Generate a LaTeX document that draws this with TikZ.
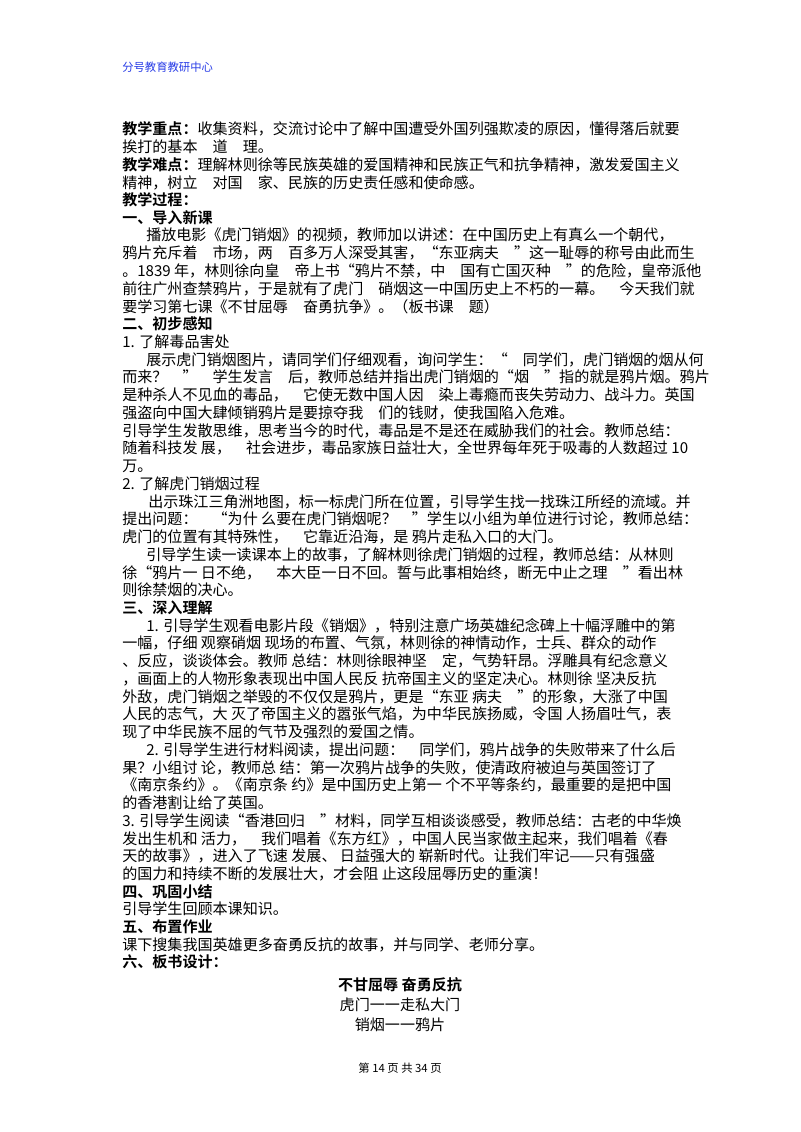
\documentclass[tikz,border=0pt]{standalone}
\usepackage{fontspec}
\setmainfont{Noto Sans CJK SC}
\newfontfamily\cjkb{Noto Sans CJK SC Bold}
\definecolor{hdr}{RGB}{40,60,230}
\begin{document}
\begin{tikzpicture}[x=0.75pt,y=-0.75pt]
\tikzset{ln/.style={anchor=west,inner sep=0pt,font=\fontsize{11.3pt}{13pt}\selectfont},
 hb/.style={ln,font=\fontsize{11.3pt}{13pt}\selectfont\cjkb}}
\useasboundingbox (0,0) rectangle (800,1132);
\node[ln,text=hdr,font=\fontsize{8.5pt}{10pt}\selectfont] (h) at (122,67) {分号教育教研中心};
\node[ln] (a1) at (122,129) {{\cjkb 教学重点：}收集资料，交流讨论中了解中国遭受外国列强欺凌的原因，懂得落后就要};
\node[ln] (a2) at (122,147) {挨打的基本　道　理。};
\node[ln] (a3) at (122,165) {{\cjkb 教学难点：}理解林则徐等民族英雄的爱国精神和民族正气和抗争精神，激发爱国主义};
\node[ln] (a4) at (122,183) {精神，树立　对国　家、民族的历史责任感和使命感。};
\node[hb] (a5) at (122,200) {教学过程：};
\node[hb] (a6) at (122,218) {一、导入新课};
\node[ln] (b1) at (146,235) {播放电影《虎门销烟》的视频，教师加以讲述：在中国历史上有真么一个朝代，};
\node[ln] (b2) at (122,253) {鸦片充斥着　市场，两　百多万人深受其害，“东亚病夫　”这一耻辱的称号由此而生};
\node[ln] (b3) at (122,271) {。1839 年，林则徐向皇　帝上书“鸦片不禁，中　国有亡国灭种　”的危险，皇帝派他};
\node[ln] (b4) at (122,289) {前往广州查禁鸦片，于是就有了虎门　硝烟这一中国历史上不朽的一幕。　今天我们就};
\node[ln] (b5) at (122,307) {要学习第七课《不甘屈辱　奋勇抗争》。（板书课　题）};
\node[hb] (c0) at (122,324) {二、初步感知};
\node[ln] (c1) at (122,342) {1. 了解毒品害处};
\node[ln] (c2) at (146,360) {展示虎门销烟图片，请同学们仔细观看，询问学生：“　同学们，虎门销烟的烟从何};
\node[ln] (c3) at (122,377) {而来？　”　学生发言　后，教师总结并指出虎门销烟的“烟　”指的就是鸦片烟。鸦片};
\node[ln] (c4) at (122,395) {是种杀人不见血的毒品，　它使无数中国人因　染上毒瘾而丧失劳动力、战斗力。英国};
\node[ln] (c5) at (122,413) {强盗向中国大肆倾销鸦片是要掠夺我　们的钱财，使我国陷入危难。};
\node[ln] (c6) at (122,431) {引导学生发散思维，思考当今的时代，毒品是不是还在威胁我们的社会。教师总结：};
\node[ln] (c7) at (122,448) {随着科技发 展，　社会进步，毒品家族日益壮大，全世界每年死于吸毒的人数超过 10};
\node[ln] (c8) at (122,466) {万。};
\node[ln] (d1) at (122,484) {2. 了解虎门销烟过程};
\node[ln] (d2) at (148,502) {出示珠江三角洲地图，标一标虎门所在位置，引导学生找一找珠江所经的流域。并};
\node[ln] (d3) at (122,519) {提出问题：　“为什 么要在虎门销烟呢？　”学生以小组为单位进行讨论，教师总结：};
\node[ln] (d4) at (122,537) {虎门的位置有其特殊性，　它靠近沿海，是 鸦片走私入口的大门。};
\node[ln] (d5) at (146,555) {引导学生读一读课本上的故事，了解林则徐虎门销烟的过程，教师总结：从林则};
\node[ln] (d6) at (122,573) {徐“鸦片一 日不绝，　本大臣一日不回。誓与此事相始终，断无中止之理　”看出林};
\node[ln] (d7) at (122,590) {则徐禁烟的决心。};
\node[hb] (e0) at (122,608) {三、深入理解};
\node[ln] (e1) at (146,626) {1. 引导学生观看电影片段《销烟》，特别注意广场英雄纪念碑上十幅浮雕中的第};
\node[ln] (e2) at (122,643) {一幅，仔细 观察硝烟 现场的布置、气氛，林则徐的神情动作，士兵、群众的动作};
\node[ln] (e3) at (122,661) {、反应，谈谈体会。教师 总结：林则徐眼神坚　定，气势轩昂。浮雕具有纪念意义};
\node[ln] (e4) at (122,679) {，画面上的人物形象表现出中国人民反 抗帝国主义的坚定决心。林则徐 坚决反抗};
\node[ln] (e5) at (122,697) {外敌，虎门销烟之举毁的不仅仅是鸦片，更是“东亚 病夫　”的形象，大涨了中国};
\node[ln] (e6) at (122,714) {人民的志气，大 灭了帝国主义的嚣张气焰，为中华民族扬威，令国 人扬眉吐气，表};
\node[ln] (e7) at (122,732) {现了中华民族不屈的气节及强烈的爱国之情。};
\node[ln] (f1) at (146,750) {2. 引导学生进行材料阅读，提出问题：　同学们，鸦片战争的失败带来了什么后};
\node[ln] (f2) at (122,768) {果？小组讨 论，教师总 结：第一次鸦片战争的失败，使清政府被迫与英国签订了};
\node[ln] (f3) at (122,785) {《南京条约》。《南京条 约》是中国历史上第一 个不平等条约，最重要的是把中国};
\node[ln] (f4) at (122,803) {的香港割让给了英国。};
\node[ln] (g1) at (122,821) {3. 引导学生阅读“香港回归　”材料，同学互相谈谈感受，教师总结：古老的中华焕};
\node[ln] (g2) at (122,839) {发出生机和 活力，　我们唱着《东方红》，中国人民当家做主起来，我们唱着《春};
\node[ln] (g3) at (122,856) {天的故事》，进入了飞速 发展、 日益强大的 崭新时代。让我们牢记——只有强盛};
\node[ln] (g4) at (122,874) {的国力和持续不断的发展壮大，才会阻 止这段屈辱历史的重演！};
\node[hb] (h0) at (122,892) {四、巩固小结};
\node[ln] (h1) at (122,909) {引导学生回顾本课知识。};
\node[hb] (i0) at (122,927) {五、布置作业};
\node[ln] (i1) at (122,945) {课下搜集我国英雄更多奋勇反抗的故事，并与同学、老师分享。};
\node[hb] (j0) at (122,962) {六、板书设计：};
\node[hb,anchor=center] (k1) at (400,985) {不甘屈辱 奋勇反抗};
\node[ln,anchor=center] (k2) at (400,1005) {虎门一一走私大门};
\node[ln,anchor=center] (k3) at (400,1025) {销烟一一鸦片};
\node[ln,anchor=center,font=\fontsize{8.5pt}{10pt}\selectfont] (pg) at (400,1068) {第 14 页 共 34 页};
\end{tikzpicture}
\end{document}
